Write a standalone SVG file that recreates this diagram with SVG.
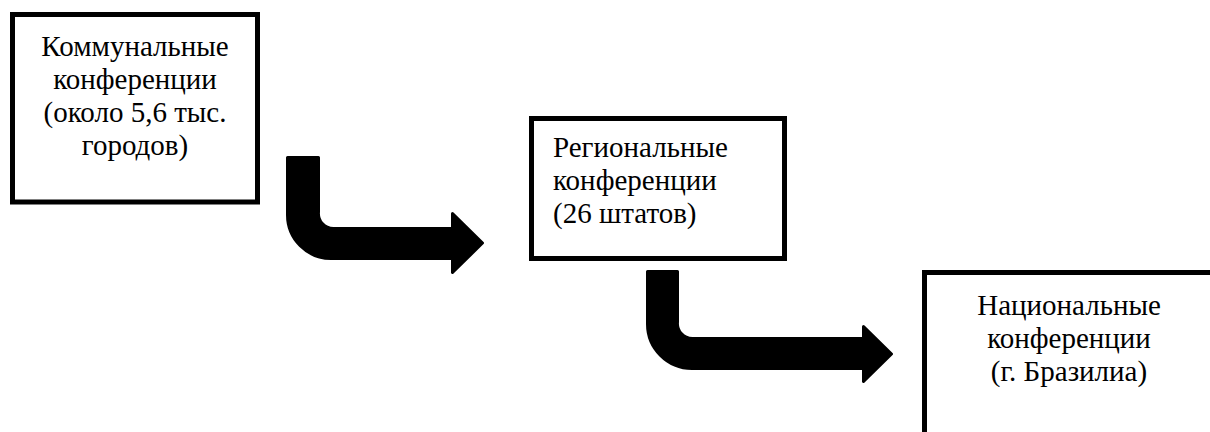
<svg xmlns="http://www.w3.org/2000/svg" width="1210" height="432" viewBox="0 0 1210 432">
<style>
.box{fill:#fff;stroke:#000;stroke-width:5}
.arrow{fill:#000;stroke:#000;stroke-width:3;stroke-linejoin:round}
</style>
<rect width="1210" height="432" fill="#fff"/>
<g id="node-communal" font-family="Liberation Serif" font-size="29">
<rect class="box" x="12.5" y="14.5" width="245" height="187.5"/>
<text x="135" y="56" font-family="Liberation Serif" text-anchor="middle"><tspan font-family="Liberation Serif">Коммунальные</tspan></text>
<text x="135" y="89" font-family="Liberation Serif" text-anchor="middle"><tspan font-family="Liberation Serif">конференции</tspan></text>
<text x="135" y="122" font-family="Liberation Serif" text-anchor="middle"><tspan font-family="Liberation Serif">(около 5,6 тыс.</tspan></text>
<text x="135" y="155" font-family="Liberation Serif" text-anchor="middle"><tspan font-family="Liberation Serif">городов)</tspan></text>
</g>
<g id="node-regional" font-family="Liberation Serif" font-size="29">
<rect class="box" x="531.5" y="118.5" width="253" height="140"/>
<text x="553" y="157" font-family="Liberation Serif"><tspan font-family="Liberation Serif">Региональные</tspan></text>
<text x="553" y="190" font-family="Liberation Serif"><tspan font-family="Liberation Serif">конференции</tspan></text>
<text x="553" y="223" font-family="Liberation Serif"><tspan font-family="Liberation Serif">(26 штатов)</tspan></text>
</g>
<g id="node-national" font-family="Liberation Serif" font-size="29">
<rect class="box" x="924.5" y="272.5" width="300" height="200"/>
<text x="1069" y="315" font-family="Liberation Serif" text-anchor="middle"><tspan font-family="Liberation Serif">Национальные</tspan></text>
<text x="1069" y="348" font-family="Liberation Serif" text-anchor="middle"><tspan font-family="Liberation Serif">конференции</tspan></text>
<text x="1069" y="381" font-family="Liberation Serif" text-anchor="middle"><tspan font-family="Liberation Serif">(г. Бразилиа)</tspan></text>
</g>
<g id="connectors">
<path class="arrow" d="M287.5 157.5 H318.5 V212 A15 15 0 0 0 333.5 228.5 H452.5 V213.5 L482.5 243 L452.5 272.5 V258.5 H331 A43.5 43.5 0 0 1 287.5 215 Z"/>
<path class="arrow" d="M647.5 271.5 H677.5 V322 A15 15 0 0 0 692.5 338.5 H863.5 V326.5 L891.5 354 L863.5 381.5 V368.5 H692 A44.5 44.5 0 0 1 647.5 324 Z"/>
</g>
</svg>
